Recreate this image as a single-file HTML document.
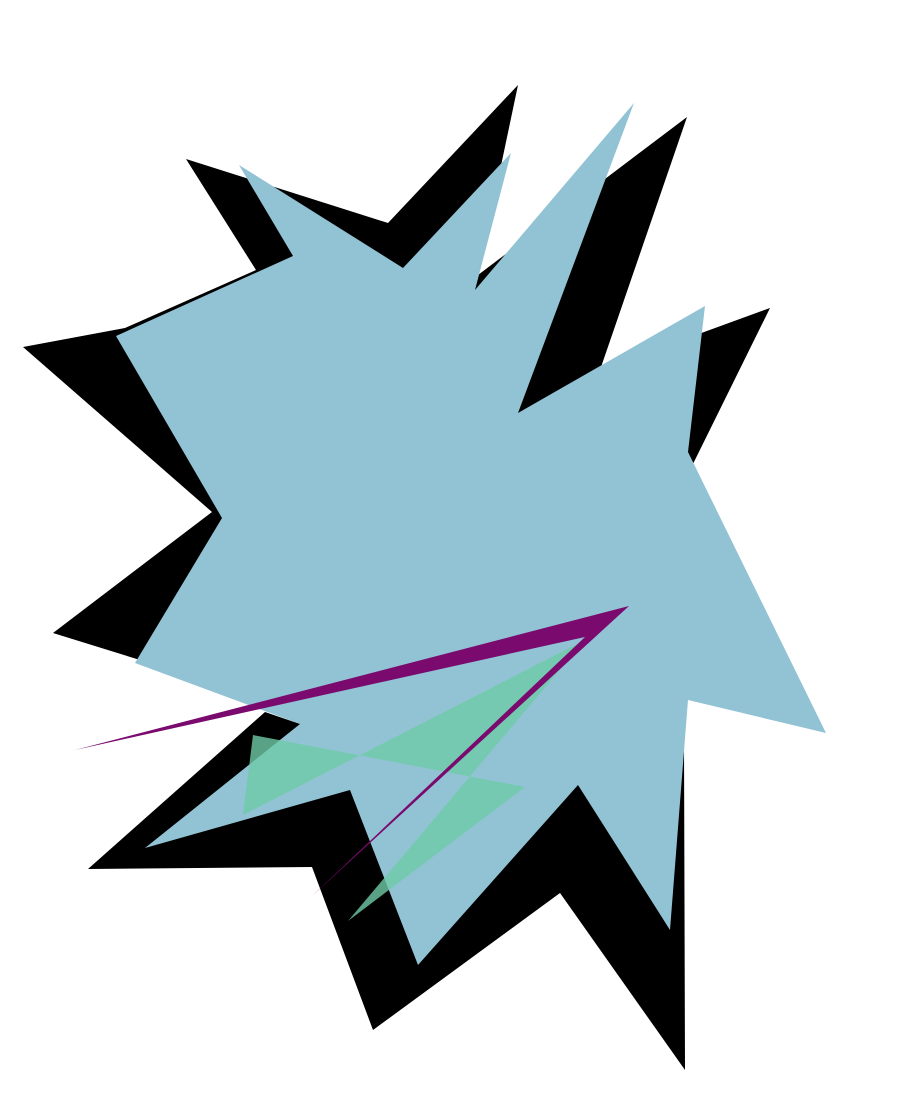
<!DOCTYPE html>
<html>
<head>
<meta charset="utf-8">
<style>
html,body{margin:0;padding:0;background:#fff;}
svg{display:block;}
</style>
</head>
<body>
<svg width="900" height="1100" viewBox="0 0 900 1100">
  <polygon fill="#000"
    points="186,159 388,223 518,85 478,275 687,117 600,370 770,308 690,470 684,740 685,1070 560,893 373,1030 312,867 88,869 265,712 300,724 140,660 53,633 212,512 23,347 125,328 256,270"/>
  <polygon fill="#92c3d4"
    points="239,165 403,268 511,153 475,290 634,103 518,413 705,306 688,452 826,733 688,700 670,930 578,785 418,965 350,790 145,848 300,724 135,663 222,518 116,336 293,256"/>
  <polygon fill="#6fcaa8" fill-opacity="0.8"
    points="253,735 525,787 348,921 585,640 243,815"/>
  <polygon fill="#7a0a6e"
    points="75,750 629,606 312,896 585,637"/>
</svg>
</body>
</html>
